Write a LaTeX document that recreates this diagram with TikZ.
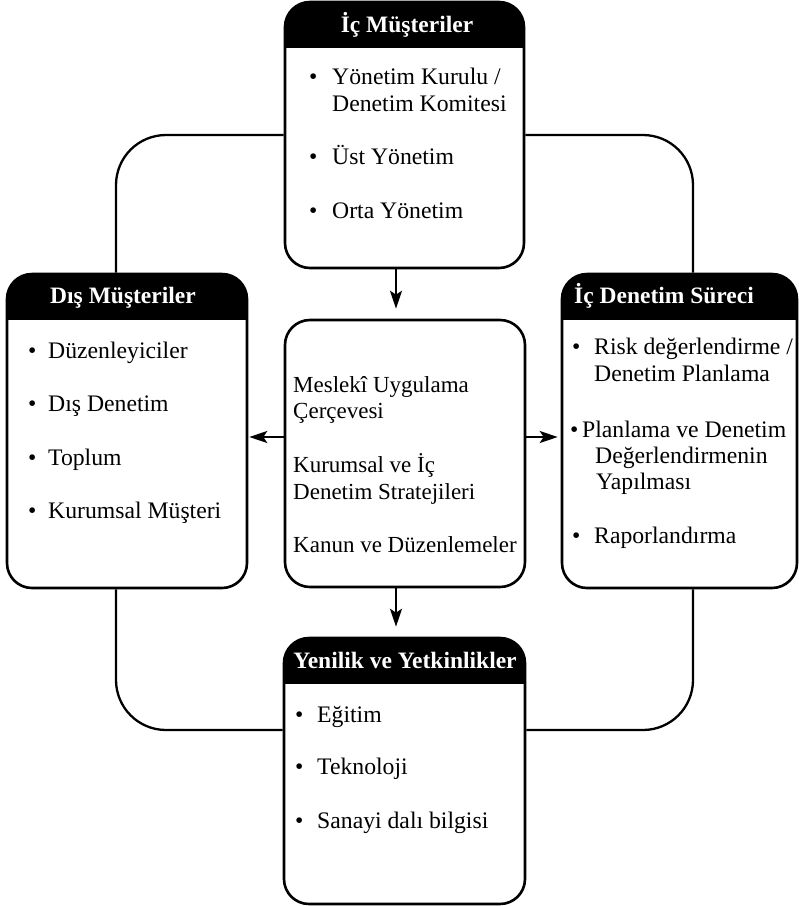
\documentclass[tikz,border=0pt]{standalone}
\usepackage{fontspec}
\setmainfont{Liberation Serif}
\usetikzlibrary{arrows.meta}
\begin{document}
\begin{tikzpicture}[x=1pt,y=-1pt,
  box/.style={draw=black, line width=2.6pt, rounded corners=25pt, inner sep=0pt, fill=white},
  headed/.style={box, path picture={\fill[black, sharp corners] (path picture bounding box.north west) rectangle ([yshift=-46pt]path picture bounding box.north east);}},
  conn/.style={draw=black, line width=2.3pt, rounded corners=50pt},
  arr/.style={draw=black, line width=2.3pt, -{Stealth[length=18pt,width=12pt,inset=4pt]}},
  ttl/.style={anchor=base, text=white, font=\fontsize{23.5}{27}\selectfont\bfseries, inner sep=0pt},
  txt/.style={anchor=base west, font=\fontsize{23.7}{27}\selectfont, inner sep=0pt},
  ctxt/.style={anchor=base west, font=\fontsize{23}{27}\selectfont, inner sep=0pt},
  bul/.style={anchor=base west, font=\fontsize{23.7}{27}\selectfont, inner sep=0pt}
]
\useasboundingbox (0,0) rectangle (799,906);

% boxes
\node[headed, minimum width=239pt, minimum height=266pt] (top) at (404.5,135) {};
\node[headed, minimum width=240pt, minimum height=314pt] (left) at (127,431) {};
\node[headed, minimum width=235pt, minimum height=314pt] (right) at (679.5,431) {};
\node[box, minimum width=240pt, minimum height=267pt] (center) at (405,453.5) {};
\node[headed, minimum width=241pt, minimum height=266pt] (bottom) at (404.5,771) {};

% connectors
\draw[conn] (top.west) -| ([xshift=-11pt]left.north);
\draw[conn] (top.east) -| ([xshift=13.5pt]right.north);
\draw[conn] ([xshift=-11pt]left.south) |- ([yshift=41pt]bottom.west);
\draw[conn] ([xshift=13.5pt]right.south) |- ([yshift=41pt]bottom.east);

% arrows
\draw[arr, shorten >=10pt] (top.south -| 396,0) -- (center.north -| 396,0);
\draw[arr, shorten >=10pt] (center.south -| 396,0) -- (bottom.north -| 396,0);
\draw[arr, shorten >=1pt] (center.west |- 0,437) -- (left.east |- 0,437);
\draw[arr, shorten >=3pt] (center.east |- 0,437) -- (right.west |- 0,437);

% titles
\node[ttl] (ttop) at (407,32) {İç Müşteriler};
\node[ttl] (tleft) at (123,303) {Dış Müşteriler};
\node[ttl] (tright) at (664,303) {İç Denetim Süreci};
\node[ttl] (tbottom) at (405,668) {Yenilik ve Yetkinlikler};

% top items
\node[bul] (tb1) at (309,84) {•};
\node[txt] (ti1a) at (332,84) {Yönetim Kurulu /};
\node[txt] (ti1b) at (332,111) {Denetim Komitesi};
\node[bul] (tb2) at (309,164) {•};
\node[txt] (ti2) at (332,164) {Üst Yönetim};
\node[bul] (tb3) at (309,218) {•};
\node[txt] (ti3) at (332,218) {Orta Yönetim};

% left items
\node[bul] (lb1) at (28,358) {•};
\node[txt] (li1) at (48,358) {Düzenleyiciler};
\node[bul] (lb2) at (28,411.5) {•};
\node[txt] (li2) at (48,411.5) {Dış Denetim};
\node[bul] (lb3) at (28,465) {•};
\node[txt] (li3) at (48,465) {Toplum};
\node[bul] (lb4) at (28,518) {•};
\node[txt] (li4) at (48,518) {Kurumsal Müşteri};

% right items
\node[bul] (rb1) at (572,354) {•};
\node[txt] (ri1a) at (594,354) {Risk değerlendirme /};
\node[txt] (ri1b) at (594,381) {Denetim Planlama};
\node[bul] (rb2) at (570,437) {•};
\node[txt] (ri2a) at (582,437) {Planlama ve Denetim};
\node[txt] (ri2b) at (595,463) {Değerlendirmenin};
\node[txt] (ri2c) at (596,489) {Yapılması};
\node[bul] (rb3) at (572,543) {•};
\node[txt] (ri3) at (594,543) {Raporlandırma};

% center items
\node[ctxt] (c1a) at (293,392) {Meslekî Uygulama};
\node[ctxt] (c1b) at (293,418) {Çerçevesi};
\node[ctxt] (c2a) at (293,472) {Kurumsal ve İç};
\node[ctxt] (c2b) at (293,499) {Denetim Stratejileri};
\node[ctxt] (c3) at (293,552) {Kanun ve Düzenlemeler};

% bottom items
\node[bul] (bb1) at (295,722) {•};
\node[txt] (bi1) at (317,722) {Eğitim};
\node[bul] (bb2) at (295,774) {•};
\node[txt] (bi2) at (317,774) {Teknoloji};
\node[bul] (bb3) at (295,828) {•};
\node[txt] (bi3) at (317,828) {Sanayi dalı bilgisi};
\end{tikzpicture}
\end{document}
